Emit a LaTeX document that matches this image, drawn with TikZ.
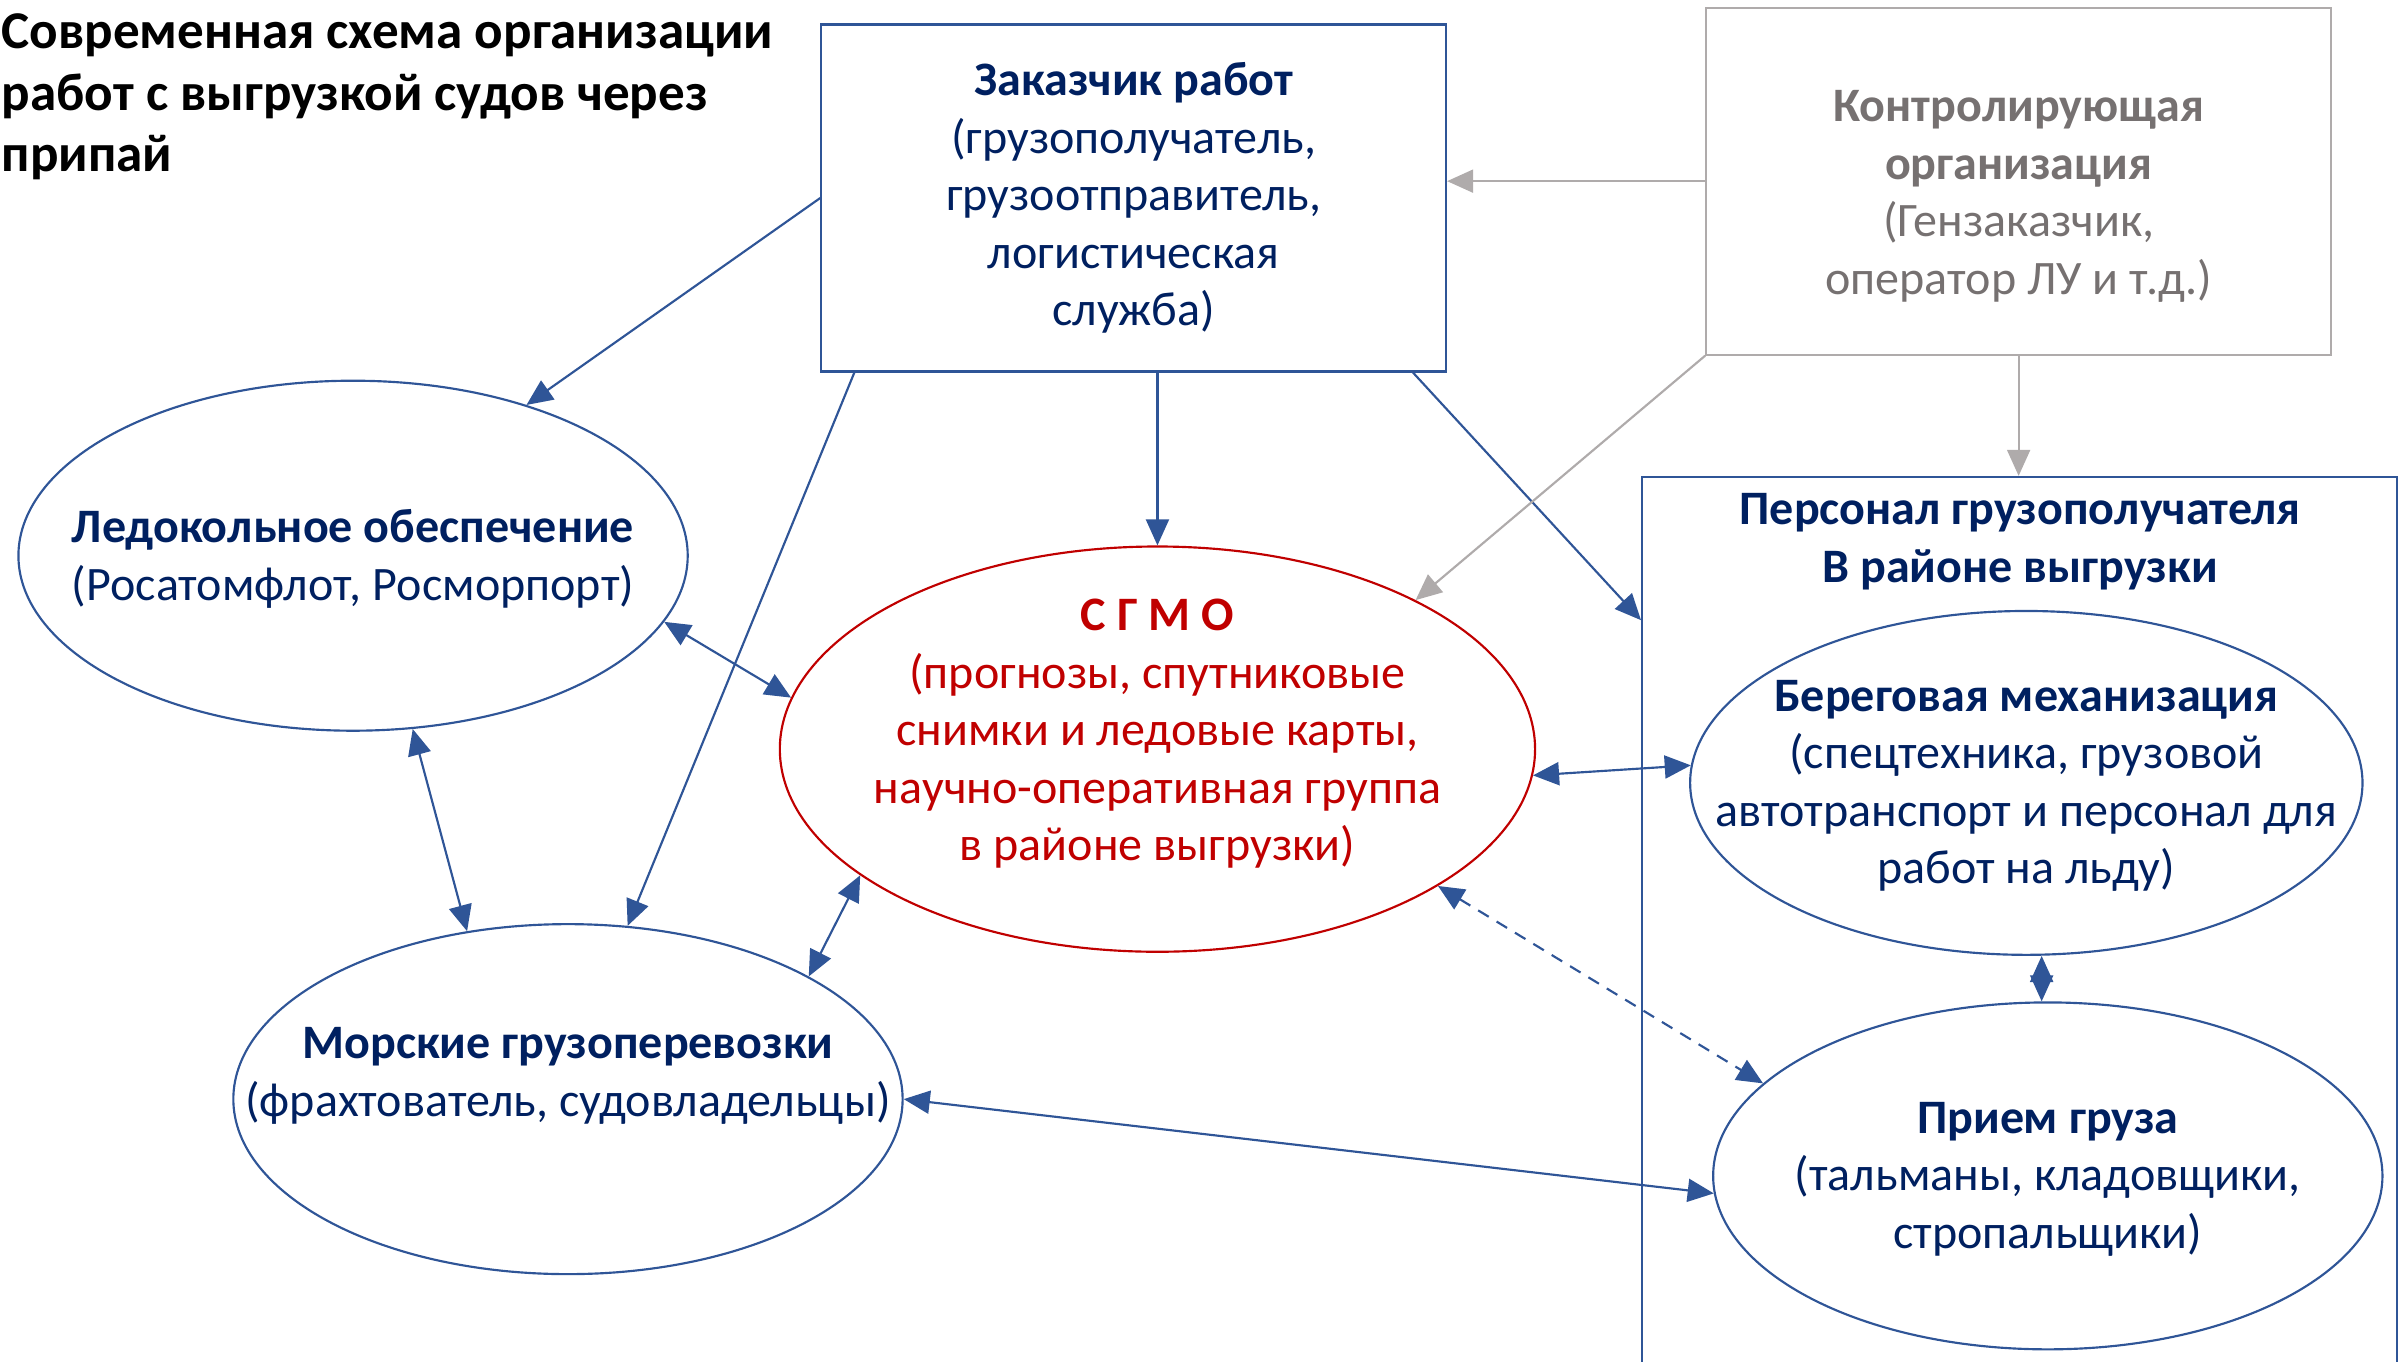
\documentclass[tikz,border=0pt]{standalone}
\usepackage{fontspec}
\setmainfont{Carlito}
\usetikzlibrary{arrows.meta,shapes.geometric,positioning}
\definecolor{navy}{HTML}{002060}
\definecolor{lineblue}{HTML}{2F5597}
\definecolor{sgmored}{HTML}{C00000}
\definecolor{ctrlgray}{HTML}{AFABAB}
\definecolor{ctrltext}{HTML}{767171}

\begin{document}
\begin{tikzpicture}[x=1pt,y=-1pt,>={Triangle[length=17pt,width=15pt]},
  every node/.style={font=\fontsize{31.3}{37.5}\selectfont,align=center,inner sep=0pt},
  org/.style={ellipse,draw=lineblue,line width=1.4pt,minimum width=436pt,minimum height=228pt},
  orgtxt/.style={text=navy},
  box/.style={rectangle,draw=lineblue,line width=1.4pt,minimum width=407pt,minimum height=226pt,text=navy},
  link/.style={color=lineblue,line width=1.4pt},
  ctrl/.style={color=ctrlgray,line width=1.4pt}]
  \clip (0,0) rectangle (1568,887);

  \node[anchor=north west,align=left,font=\fontsize{34.6}{40}\selectfont\bfseries] (title) at (1,9)
    {Современная схема организации\\работ с выгрузкой судов через\\припай};

  \node[box] (zak) at (738.5,129)
    {\textbf{Заказчик работ}\\(грузополучатель,\\грузоотправитель,\\логистическая\\служба)};
  \node[box,draw=ctrlgray,minimum height=226pt] (kon) at (1315,118) {};
  \node[text=ctrltext] (kont) at (1315,128)
    {\textbf{Контролирующая}\\\textbf{организация}\\(Гензаказчик,\\оператор ЛУ и т.д.)};
  \node[rectangle,draw=lineblue,line width=1.4pt,anchor=north west,
        minimum width=492pt,minimum height=640pt] (pers) at (1069,310) {};
  \node[orgtxt,font=\fontsize{31.3}{37.5}\selectfont\bfseries] (perst) at (1316,353)
    {Персонал грузополучателя\\В районе выгрузки};

  \node[org] (led) at (230,362) {};
  \node[orgtxt] (ledt) at (230,364)
    {\textbf{Ледокольное обеспечение}\\(Росатомфлот, Росморпорт)};
  \node[org,draw=sgmored,minimum width=492pt,minimum height=264pt] (sgmo) at (754,488) {};
  \node[text=sgmored] (sgmot) at (754,478)
    {\textbf{С Г М О}\\(прогнозы, спутниковые\\снимки и ледовые карты,\\научно-оперативная группа\\в районе выгрузки)};
  \node[org] (msk) at (370,716) {};
  \node[orgtxt] (mskt) at (370,701)
    {\textbf{Морские грузоперевозки}\\(фрахтователь, судовладельцы)};
  \node[org,minimum width=438pt,minimum height=224pt] (ber) at (1320,510) {};
  \node[orgtxt] (bert) at (1320,512)
    {\textbf{Береговая механизация}\\(спецтехника, грузовой\\автотранспорт и персонал для\\работ на льду)};
  \node[org,minimum height=226pt] (prm) at (1334,766) {};
  \node[orgtxt] (prmt) at (1334,768)
    {\textbf{Прием груза}\\(тальманы, кладовщики,\\стропальщики)};

  \path[->,link]
    (zak.west) edge (led.41)
    (zak.212.5) edge (msk.71)
    (zak.south -| sgmo.north) edge (sgmo.north)
    (zak.-32.8) edge ([yshift=-94pt]pers.north west);
  \path[->,ctrl]
    (kon.west) edge (kon.west -| zak.east)
    (kon.south west) edge (sgmo.30)
    (kon.south) edge (kon.south |- pers.north);
  \path[<->,link]
    (led.-12.7) edge (sgmo.172.6)
    (led.-71.7) edge (msk.121)
    (sgmo.203.4) edge (msk.27.9)
    (sgmo.-4.2) edge (ber.177.4)
    (sgmo.-26.3) edge[dash pattern=on 8pt off 6pt] (prm.162.7)
    ([xshift=10pt]ber.south) edge ([xshift=-4pt]prm.north)
    (msk.east) edge (prm.183);
\end{tikzpicture}
\end{document}
